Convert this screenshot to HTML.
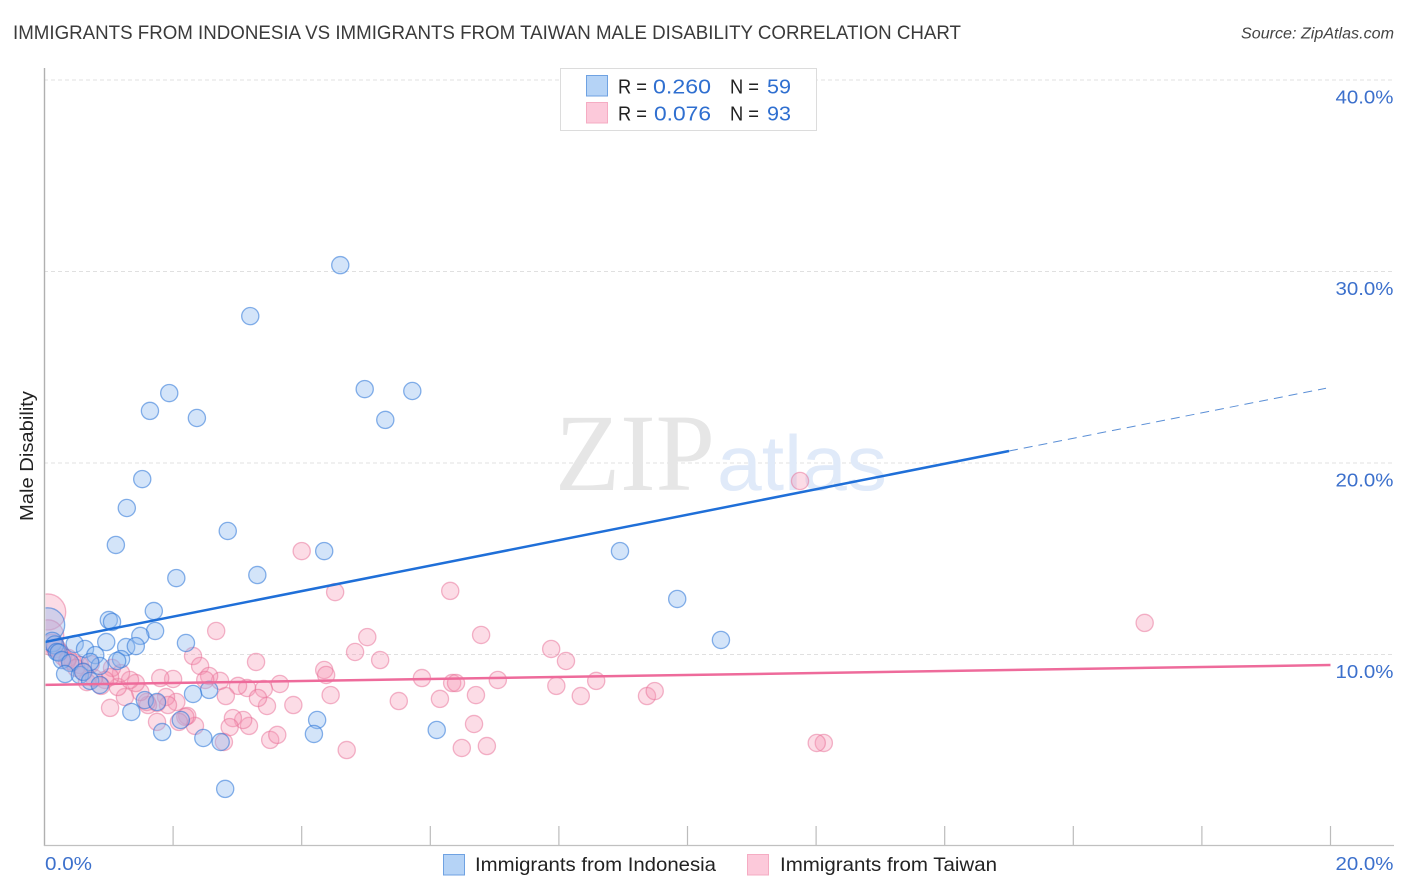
<!DOCTYPE html>
<html lang="en">
<head>
<meta charset="utf-8">
<title>Immigrants from Indonesia vs Immigrants from Taiwan Male Disability Correlation Chart</title>
<style>
html,body{margin:0;padding:0;background:#fff;width:1406px;height:892px;overflow:hidden}
svg{display:block;font-family:"Liberation Sans",sans-serif}
</style>
</head>
<body>
<svg id="chart" width="1406" height="892" viewBox="0 0 1406 892" xmlns="http://www.w3.org/2000/svg">
<defs><clipPath id="plot-clip"><rect x="45.5" y="60" width="1349" height="786"/></clipPath></defs>
<text x="13" y="39" font-size="19.5" fill="#3a3a3a" textLength="948" lengthAdjust="spacingAndGlyphs">IMMIGRANTS FROM INDONESIA VS IMMIGRANTS FROM TAIWAN MALE DISABILITY CORRELATION CHART</text>
<text x="1241" y="38.5" font-size="15.5" font-style="italic" fill="#444" textLength="153" lengthAdjust="spacingAndGlyphs">Source: ZipAtlas.com</text>
<g id="grid"></g>
<g>
<text x="555" y="490" font-family="'Liberation Serif',serif" font-size="110" fill="#e6e6e6" textLength="160" lengthAdjust="spacingAndGlyphs">ZIP</text>
<text x="717" y="490" font-size="78" fill="#e0eaf9" textLength="170" lengthAdjust="spacingAndGlyphs">atlas</text>
</g>
<g id="axes"></g>
<g id="points" clip-path="url(#plot-clip)"></g>
<g id="trends" clip-path="url(#plot-clip)"></g>
<text transform="translate(33,456) rotate(-90)" font-size="18.5" fill="#222" text-anchor="middle" textLength="130" lengthAdjust="spacingAndGlyphs">Male Disability</text>
<g id="tick-labels"></g>
<g>
<rect x="560.5" y="68.5" width="256" height="62" fill="#fff" stroke="#dcdcdc" stroke-width="1"/>
<rect x="586.5" y="75.5" width="21" height="20.5" fill="#b5d3f6" stroke="#6fa2e2" stroke-width="1"/>
<rect x="586.5" y="102.5" width="21" height="20.5" fill="#fcc9da" stroke="#f5acc3" stroke-width="1"/>
<g font-size="20">
<text x="618" y="93.5" fill="#222" textLength="29" lengthAdjust="spacingAndGlyphs">R =</text>
<text x="653" y="93.5" fill="#2f6fd0" textLength="58" lengthAdjust="spacingAndGlyphs">0.260</text>
<text x="730" y="93.5" fill="#222" textLength="29" lengthAdjust="spacingAndGlyphs">N =</text>
<text x="767" y="93.5" fill="#2f6fd0" textLength="24" lengthAdjust="spacingAndGlyphs">59</text>
<text x="618" y="120.5" fill="#222" textLength="29" lengthAdjust="spacingAndGlyphs">R =</text>
<text x="654" y="120.5" fill="#2f6fd0" textLength="57" lengthAdjust="spacingAndGlyphs">0.076</text>
<text x="730" y="120.5" fill="#222" textLength="29" lengthAdjust="spacingAndGlyphs">N =</text>
<text x="767" y="120.5" fill="#2f6fd0" textLength="24" lengthAdjust="spacingAndGlyphs">93</text>
</g>
</g>
<g>
<rect x="443.5" y="854.5" width="21" height="20.5" fill="#b5d3f6" stroke="#6fa2e2" stroke-width="1"/>
<text x="475" y="871" font-size="19.5" fill="#222" textLength="241" lengthAdjust="spacingAndGlyphs">Immigrants from Indonesia</text>
<rect x="747.5" y="854.5" width="21" height="20.5" fill="#fcc9da" stroke="#f5acc3" stroke-width="1"/>
<text x="780" y="871" font-size="19.5" fill="#222" textLength="217" lengthAdjust="spacingAndGlyphs">Immigrants from Taiwan</text>
</g>
</svg>
<script>
const xTicks = [0,2,4,6,8,10,12,14,16,18,20];
const yGrid = [10,20,30,40];
const yTickLabels = ["10.0%","20.0%","30.0%","40.0%"];
const xTickLabels = ["0.0%","20.0%"];
const indonesiaTrend = [10.65,0.665];
const taiwanTrend = [8.41,0.052];
const indonesiaTrendSolidEnd = 15.0;
const indonesiaTrendDashEnd = 19.93;
const taiwanTrendEnd = 20;

const indonesiaX = [0.05,0.12,0.16,0.19,0.22,0.27,0.40,4.60,3.20,4.98,5.72,1.94,1.64,2.37,5.30,1.52,1.28,2.85,1.11,4.35,8.95,2.05,3.31,9.84,1.70,1.00,1.05,1.72,1.49,10.52,2.20,0.47,0.96,1.27,1.42,0.63,0.79,1.19,1.13,0.86,0.71,0.32,0.55,0.60,0.71,0.86,2.56,2.31,1.56,1.75,1.35,4.24,2.12,1.83,4.19,6.10,2.47,2.74,2.81];
const indonesiaY = [11.55,10.65,10.50,10.13,10.10,9.71,9.56,30.33,27.67,23.86,23.76,23.65,22.72,22.35,22.25,19.16,17.65,16.45,15.72,15.40,15.40,13.99,14.15,12.90,12.27,11.80,11.70,11.23,10.97,10.76,10.60,10.55,10.65,10.39,10.44,10.29,9.97,9.76,9.66,9.40,9.61,8.98,8.93,9.09,8.62,8.41,8.15,7.94,7.62,7.52,7.00,6.58,6.58,5.95,5.85,6.06,5.64,5.43,2.98];
const indonesiaWeight = [3.9,1.3,1.1];

const taiwanX = [0.05,0.05,0.12,0.18,11.75,17.11,4.00,4.52,6.31,2.67,6.79,5.02,7.88,8.11,4.83,5.22,2.31,3.29,2.42,4.35,4.38,5.87,3.66,2.00,1.80,2.73,2.56,2.50,6.34,6.40,7.05,7.96,8.58,4.45,6.71,6.15,5.51,8.34,9.37,9.49,3.41,3.15,3.01,2.82,3.87,3.46,3.32,6.68,6.88,6.49,4.70,12.12,12.01,3.51,3.62,3.18,3.09,2.93,2.88,2.79,2.34,2.22,2.19,2.09,1.75,1.02,2.05,1.89,1.92,1.75,1.61,1.59,1.49,1.25,1.14,1.42,1.33,1.19,1.05,1.02,0.94,0.88,0.72,0.55,0.44,0.29,0.24,0.37,0.35,0.49,0.61,0.77,0.66];
const taiwanY = [12.22,10.97,10.50,10.34,19.06,11.65,15.40,13.26,13.32,11.23,11.02,10.91,10.29,9.66,10.13,9.71,9.92,9.61,9.40,9.19,8.93,8.77,8.46,8.72,8.77,8.62,8.88,8.67,8.51,8.51,8.67,8.36,8.62,7.88,7.88,7.68,7.57,7.83,7.83,8.09,8.20,8.25,8.36,7.83,7.36,7.31,7.73,6.37,5.22,5.12,5.01,5.38,5.38,5.54,5.80,6.27,6.58,6.68,6.21,5.43,6.27,6.79,6.74,6.48,6.48,7.21,7.52,7.78,7.36,7.47,7.36,7.52,8.04,7.78,8.30,8.51,8.67,9.03,9.30,8.82,8.67,8.36,9.50,9.45,9.61,9.87,10.13,9.82,9.66,9.30,9.09,8.77,8.56];
const taiwanWeight = [4.4,3.5,1.6,1.2];

const NS = "http://www.w3.org/2000/svg";
const xScale = v => 44.5 + v * 64.3;
const yScale = v => 846 - v * 19.15;
function el(parent, tag, attrs) {
  const n = document.createElementNS(NS, tag);
  for (const k in attrs) n.setAttribute(k, attrs[k]);
  parent.appendChild(n);
  return n;
}
const gridG = document.getElementById("grid");
const axesG = document.getElementById("axes");
const labelsG = document.getElementById("tick-labels");
const pointsG = document.getElementById("points");
const trendsG = document.getElementById("trends");

yGrid.forEach((v, i) => {
  const line = el(gridG, "line", {x1: 44, x2: 1394, y1: yScale(v), y2: yScale(v), stroke: "#e0e0e0", "stroke-width": 1, "stroke-dasharray": "4 3"});
  
  
  const label = el(labelsG, "text", {x: 1335.5, y: yScale(v) + 23.5, "font-size": 18.5, fill: "#3c70cc", textLength: 58, lengthAdjust: "spacingAndGlyphs"});
  label.textContent = yTickLabels[i];
  
  
});

const yAxis = el(axesG, "line", {x1: 44.5, x2: 44.5, y1: 68, y2: 846, stroke: "#b0b0b0", "stroke-width": 1.4});


const xAxis = el(axesG, "line", {x1: 44, x2: 1394, y1: 845.5, y2: 845.5, stroke: "#c0c0c0", "stroke-width": 1.2});


xTicks.slice(1).forEach(v => {
  const t = el(axesG, "line", {x1: xScale(v), x2: xScale(v), y1: 826, y2: 845, stroke: "#bcbcbc", "stroke-width": 1.2});
  
  
});
const x0 = el(labelsG, "text", {x: 45, y: 870, "font-size": 18.5, fill: "#3c70cc", textLength: 47, lengthAdjust: "spacingAndGlyphs"});
x0.textContent = xTickLabels[0];


const x1 = el(labelsG, "text", {x: 1335.5, y: 870, "font-size": 18.5, fill: "#3c70cc", textLength: 58, lengthAdjust: "spacingAndGlyphs"});
x1.textContent = xTickLabels[1];



function drawSeries(xs, ys, weights, fill, fillOp, stroke, strokeOp, name) {
  xs.forEach((v, i) => {
    const w = weights[i] === undefined ? 1 : weights[i];
    const c = el(pointsG, "circle", {cx: xScale(v), cy: yScale(ys[i]), r: 8.6 * Math.sqrt(w), fill: fill, "fill-opacity": fillOp, stroke: stroke, "stroke-opacity": strokeOp, "stroke-width": 1.3});
    
    
  });
}
drawSeries(taiwanX, taiwanY, taiwanWeight, "rgb(245,150,180)", 0.33, "rgb(232,110,150)", 0.5, "taiwan-point");
drawSeries(indonesiaX, indonesiaY, indonesiaWeight, "rgb(140,185,240)", 0.38, "rgb(40,115,215)", 0.55, "indonesia-point");

const trendValue = (t, x) => t[0] + t[1] * x;
const solid = el(trendsG, "line", {x1: xScale(0), y1: yScale(trendValue(indonesiaTrend, 0)), x2: xScale(indonesiaTrendSolidEnd), y2: yScale(trendValue(indonesiaTrend, indonesiaTrendSolidEnd)), stroke: "#1f6fd8", "stroke-width": 2.5});


const dashed = el(trendsG, "line", {x1: xScale(indonesiaTrendSolidEnd), y1: yScale(trendValue(indonesiaTrend, indonesiaTrendSolidEnd)), x2: xScale(indonesiaTrendDashEnd), y2: yScale(trendValue(indonesiaTrend, indonesiaTrendDashEnd)), stroke: "#5b8fd6", "stroke-width": 1, "stroke-dasharray": "9 6"});


const pinkLine = el(trendsG, "line", {x1: xScale(0), y1: yScale(trendValue(taiwanTrend, 0)), x2: xScale(taiwanTrendEnd), y2: yScale(trendValue(taiwanTrend, taiwanTrendEnd)), stroke: "#ee6b9b", "stroke-width": 2.5});


</script>
</body>
</html>
